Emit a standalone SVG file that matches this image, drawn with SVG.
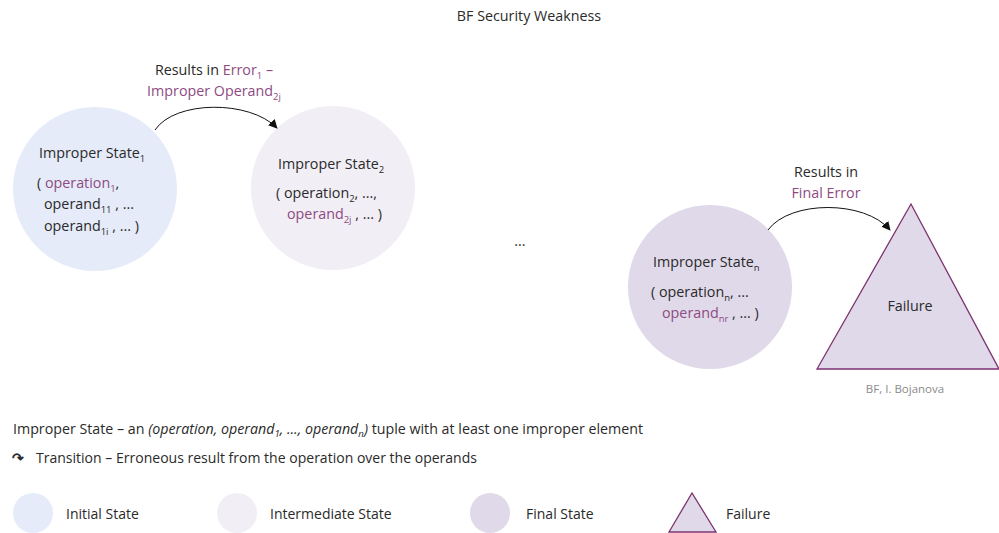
<svg xmlns="http://www.w3.org/2000/svg" width="999" height="533" viewBox="0 0 999 533">
  <style>
    text { font-family: "Open Sans", "Noto Sans", sans-serif; font-size: 14.3px; fill: #2a2a2a; }
    .hl { fill: #8e4b82; }
    .sub { font-size: 9.5px; }
    .small { font-size: 14px; }
    .note { font-size: 11.5px; fill: #8a8a8a; }
    .initial { fill: #e5ebf8; }
    .inter { fill: #f1eef6; }
    .final { fill: #dfd9e9; }
    .fail { fill: #dfd9e9; stroke: #7d3270; stroke-width: 1.3; }
    .conn { fill: none; stroke: #111; stroke-width: 1; }
  </style>
  <defs>
    <marker id="arrow" viewBox="0 0 10 10" refX="9" refY="5" markerWidth="9" markerHeight="9" orient="auto" markerUnits="userSpaceOnUse">
      <path d="M0,0 L10,5 L0,10 z" fill="#111"/>
    </marker>
  </defs>

  <text x="529" y="21" text-anchor="middle">BF Security Weakness</text>

  <!-- states -->
  <g id="state1">
    <circle cx="95" cy="189" r="82" class="initial"/>
    <text x="39" y="158">Improper State<tspan class="sub" dy="4">1</tspan></text>
    <text x="37" y="188">(<tspan class="hl"> operation</tspan><tspan class="sub hl" dy="4">1</tspan><tspan dy="-4">,</tspan></text>
    <text x="44" y="209">operand<tspan class="sub" dy="4">11</tspan><tspan dy="-4"> , ...</tspan></text>
    <text x="44" y="231">operand<tspan class="sub" dy="4">1i</tspan><tspan dy="-4"> , ... )</tspan></text>
  </g>

  <g id="state2">
    <circle cx="333" cy="188" r="82" class="inter"/>
    <text x="278" y="169">Improper State<tspan class="sub" dy="4">2</tspan></text>
    <text x="276" y="198">( operation<tspan class="sub" dy="4">2</tspan><tspan dy="-4">, ...,</tspan></text>
    <text x="287" y="219"><tspan class="hl">operand</tspan><tspan class="sub hl" dy="4">2j</tspan><tspan dy="-4"> , ... )</tspan></text>
  </g>

  <text id="ellipsis" x="520" y="246" text-anchor="middle">...</text>

  <g id="stateN">
    <circle cx="710" cy="287" r="82" class="final"/>
    <text x="653" y="267">Improper State<tspan class="sub" dy="4">n</tspan></text>
    <text x="651" y="297">( operation<tspan class="sub" dy="4">n</tspan><tspan dy="-4">, ...</tspan></text>
    <text x="662" y="318"><tspan class="hl">operand</tspan><tspan class="sub hl" dy="4">nr</tspan><tspan dy="-4"> , ... )</tspan></text>
  </g>

  <g id="failure">
    <polygon points="911,204 817,369 999,369" class="fail"/>
    <text x="910" y="311" text-anchor="middle">Failure</text>
  </g>

  <text x="905" y="393" text-anchor="middle" class="note">BF, I. Bojanova</text>

  <!-- transitions -->
  <g id="connectors">
    <path d="M155,130 C175,100 250,100 277,128" class="conn" marker-end="url(#arrow)"/>
    <path d="M768,230 C790,200 865,200 890,230" class="conn" marker-end="url(#arrow)"/>
  </g>

  <g id="label1">
    <text x="214" y="75" text-anchor="middle">Results in <tspan class="hl">Error</tspan><tspan class="sub hl" dy="4">1</tspan><tspan class="hl" dy="-4"> –</tspan></text>
    <text x="214" y="96" text-anchor="middle" class="hl">Improper Operand<tspan class="sub" dy="4">2j</tspan></text>
  </g>
  <g id="labelN">
    <text x="826" y="177" text-anchor="middle">Results in</text>
    <text x="826" y="198" text-anchor="middle" class="hl">Final Error</text>
  </g>

  <!-- legend -->
  <g id="legend">
    <text x="13" y="434" class="small" textLength="630" lengthAdjust="spacingAndGlyphs">Improper State – an <tspan font-style="italic">(operation, operand</tspan><tspan font-style="italic" class="sub" dy="3">1</tspan><tspan font-style="italic" dy="-3">, ..., operand</tspan><tspan font-style="italic" class="sub" dy="3">n</tspan><tspan font-style="italic" dy="-3">)</tspan> tuple with at least one improper element</text>
    <text x="12" y="463" font-size="18" font-weight="bold" fill="#222">↷</text>
    <text x="36" y="463" class="small" textLength="441" lengthAdjust="spacingAndGlyphs">Transition – Erroneous result from the operation over the operands</text>

    <circle cx="33" cy="513" r="20" class="initial"/>
    <text x="66" y="519" class="small">Initial State</text>
    <circle cx="237" cy="513" r="20" class="inter"/>
    <text x="270" y="519" class="small">Intermediate State</text>
    <circle cx="490" cy="513" r="20" class="final"/>
    <text x="526" y="519" class="small">Final State</text>
    <polygon points="692,493 669,532 716,532" class="fail"/>
    <text x="726" y="519" class="small">Failure</text>
  </g>
</svg>
